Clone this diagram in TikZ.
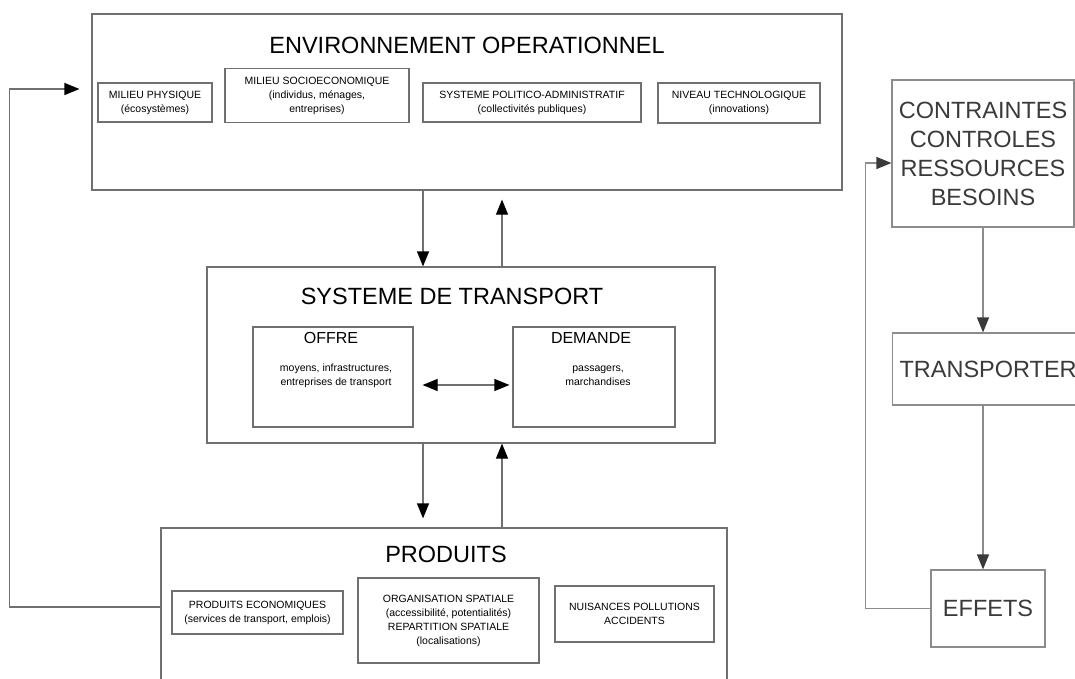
\documentclass[tikz,border=0pt]{standalone}
\usepackage{fontspec}
\setmainfont{Liberation Sans}
\usetikzlibrary{arrows.meta}

\definecolor{linegray}{HTML}{707070}
\definecolor{lightline}{HTML}{8C8C8C}
\definecolor{darktext}{HTML}{3A3A3A}

\tikzset{
  box/.style={draw=linegray, line width=1.2pt, inner sep=0pt, align=center},
  rbox/.style={draw=lightline, line width=1.2pt, inner sep=0pt, align=center, text=darktext},
  bigtext/.style={font=\fontsize{23.5}{29}\selectfont, align=center},
  midtext/.style={font=\fontsize{16}{19}\selectfont},
  smalltext/.style={font=\fontsize{10.5}{14}\selectfont, align=center},
  flow/.style={draw=linegray, line width=1.2pt, -{Triangle[length=15pt, width=12pt, color=black]}},
  dflow/.style={draw=linegray, line width=1.2pt, {Triangle[length=15pt, width=12pt, color=black]}-{Triangle[length=15pt, width=12pt, color=black]}},
  rflow/.style={draw=lightline, line width=1.2pt, -{Triangle[length=15pt, width=12pt, color=darktext]}}
}

\begin{document}
\begin{tikzpicture}[x=1pt, y=-1pt]
    \useasboundingbox (0,0) rectangle (1075,679);

    % Nodes
    \node[box, minimum width=750pt, minimum height=176pt] (env) at (467,102) {};
    \node[bigtext] (envtitle) at (467,45) {ENVIRONNEMENT OPERATIONNEL};
    \node[box, smalltext, minimum width=114pt, minimum height=39pt] (physique) at (155,102.5) {MILIEU PHYSIQUE\\(écosystèmes)};
    \node[box, smalltext, minimum width=184pt, minimum height=54pt] (socio) at (317,95.5) {MILIEU SOCIOECONOMIQUE\\(individus, ménages,\\entreprises)};
    \node[box, smalltext, minimum width=218pt, minimum height=39pt] (politique) at (532,102.5) {SYSTEME POLITICO-ADMINISTRATIF\\(collectivités publiques)};
    \node[box, smalltext, minimum width=162pt, minimum height=40pt] (techno) at (739,103) {NIVEAU TECHNOLOGIQUE\\(innovations)};

    \node[box, minimum width=508pt, minimum height=176pt] (transport) at (461,355) {};
    \node[bigtext] (transtitle) at (452,296) {SYSTEME DE TRANSPORT};
    \node[box, minimum width=160pt, minimum height=100pt] (offre) at (333,377) {};
    \node[midtext] (offretitle) at (331,338) {OFFRE};
    \node[smalltext] (offretext) at (336,376) {moyens, infrastructures,\\entreprises de transport};
    \node[box, minimum width=162pt, minimum height=100pt] (demande) at (594,377) {};
    \node[midtext] (demtitle) at (591,338) {DEMANDE};
    \node[smalltext] (demtext) at (598,376) {passagers,\\marchandises};

    \node[box, minimum width=566pt, minimum height=180pt] (produits) at (444,618) {};
    \node[bigtext] (prodtitle) at (446,554) {PRODUITS};
    \node[box, smalltext, minimum width=171pt, minimum height=43pt] (eco) at (257.5,612.5) {PRODUITS ECONOMIQUES\\(services de transport, emplois)};
    \node[box, smalltext, minimum width=181pt, minimum height=85pt] (spatial) at (448.5,620.5) {ORGANISATION SPATIALE\\(accessibilité, potentialités)\\REPARTITION SPATIALE\\(localisations)};
    \node[box, smalltext, minimum width=159pt, minimum height=56pt] (nuisances) at (634.5,614) {NUISANCES POLLUTIONS\\ACCIDENTS};

    \node[rbox, bigtext, minimum width=182pt, minimum height=147pt] (contraintes) at (983,153.5) {CONTRAINTES\\CONTROLES\\RESSOURCES\\BESOINS};
    \node[rbox, minimum width=220pt, minimum height=72pt, anchor=west] (transporter) at (892,369) {};
    \node[bigtext, anchor=west, text=darktext] (transtext) at (896,369) {TRANSPORTER};
    \node[rbox, bigtext, minimum width=114pt, minimum height=77pt] (effets) at (988,608.5) {EFFETS};

    % Arrows
    \draw[flow] ([xshift=-44pt]env.south) -- ([xshift=-44pt]env.south |- transport.north);
    \draw[flow, shorten >=9pt] ([xshift=35pt]env.south |- transport.north) -- ([xshift=35pt]env.south);
    \draw[flow, shorten >=9pt] ([xshift=-38pt]transport.south) -- ([xshift=-38pt]transport.south |- produits.north);
    \draw[flow] ([xshift=41pt]transport.south |- produits.north) -- ([xshift=41pt]transport.south);
    \draw[dflow, shorten <=9pt, shorten >=3pt] ([yshift=-8pt]offre.east) -- ([yshift=-8pt]offre.east -| demande.west);
    \draw[flow, shorten >=12pt] ([yshift=11pt]produits.west) -- ++(-151,0) |- ([yshift=13pt]env.west);

    \draw[rflow] (contraintes.south) -- (contraintes.south |- transporter.north);
    \draw[rflow] (contraintes.south |- transporter.south) -- (contraintes.south |- effets.north);
    \draw[rflow] (effets.west) -- ++(-65,0) |- ([yshift=-9.5pt]contraintes.west);

\end{tikzpicture}
\end{document}
